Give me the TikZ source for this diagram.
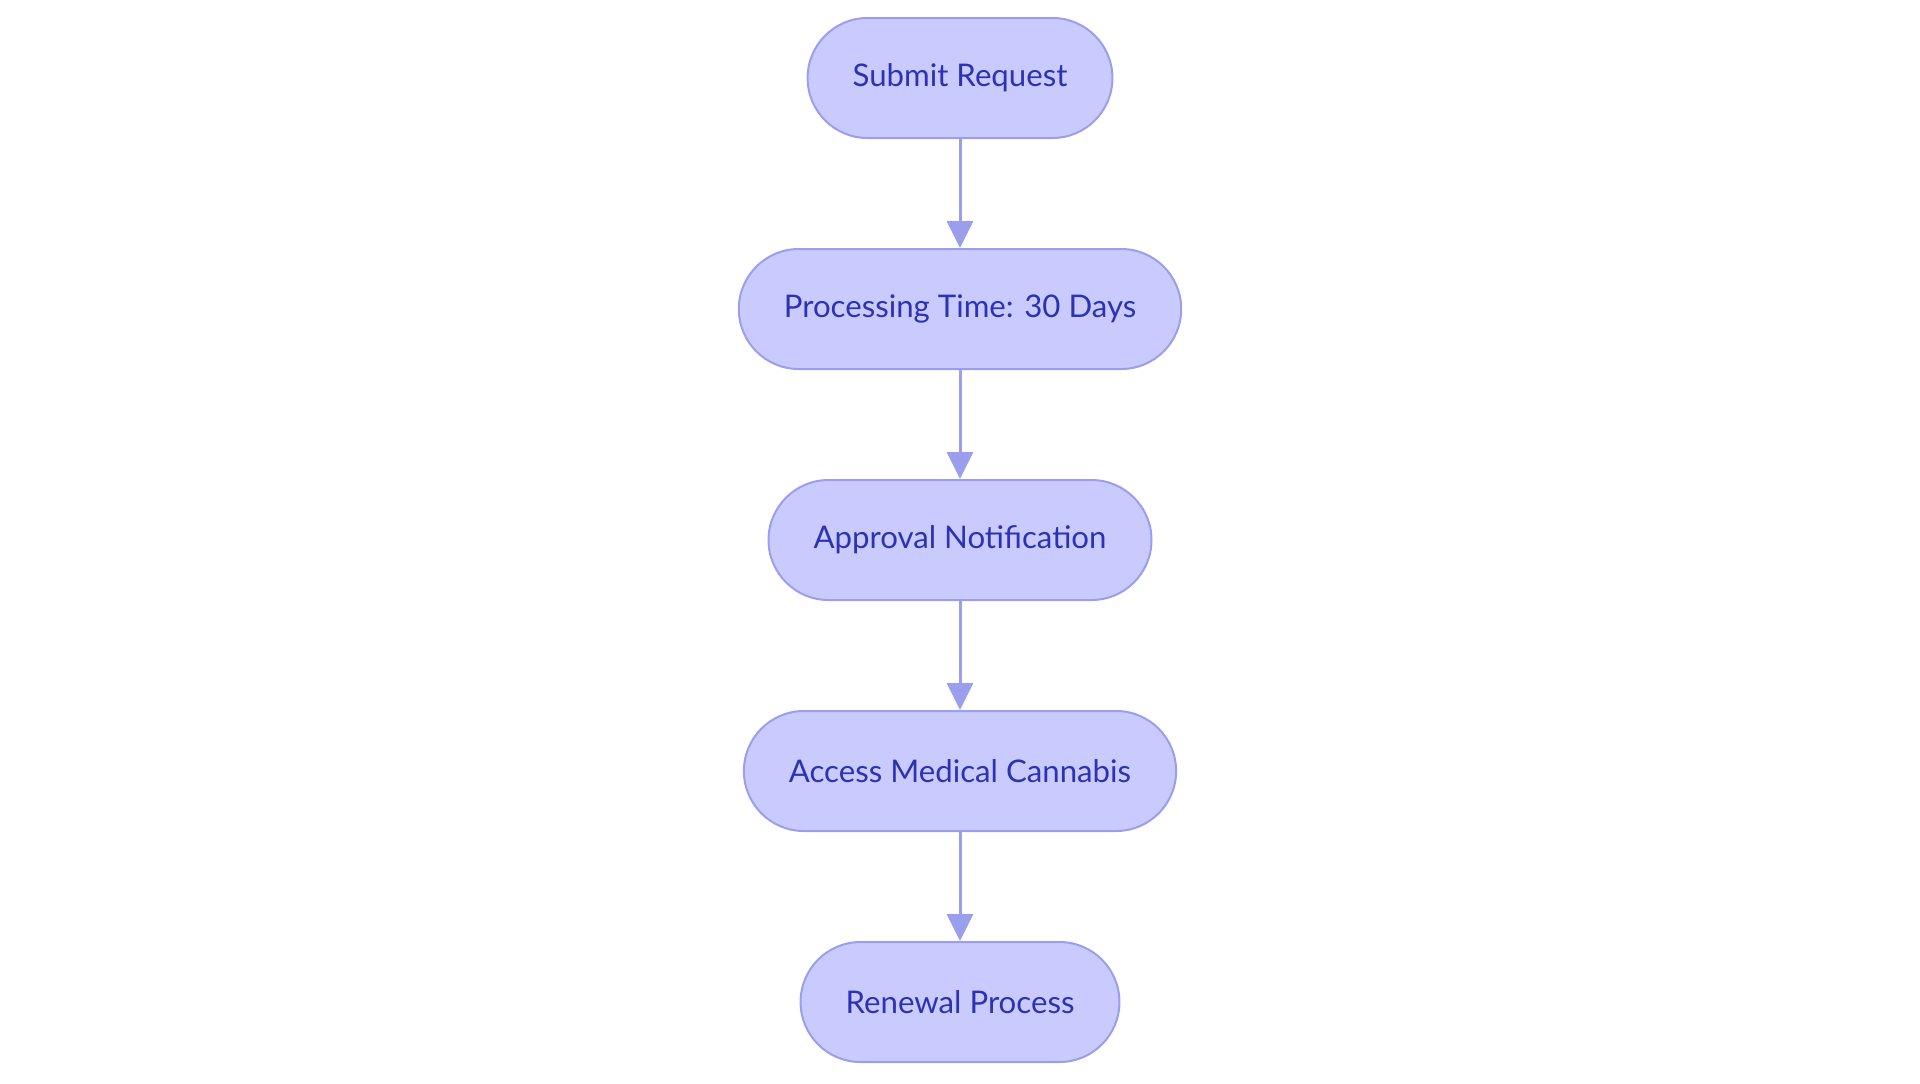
\documentclass[tikz,border=0pt]{standalone}
\usepackage{fontspec}
\setmainfont{Lato}
\usepackage{tikz}
\usetikzlibrary{positioning, arrows.meta}
\definecolor{StepFill}{HTML}{C9CBFF}
\definecolor{StepLine}{HTML}{9B9EEC}
\definecolor{StepText}{HTML}{2E31B3}

\begin{document}
\begin{tikzpicture}[x = 1pt, y = 1pt,
              stepbox/.style = {draw = StepLine, line width = 1pt, fill = StepFill,
                text = StepText, font = \fontsize{15.6}{19}\selectfont,
                rounded corners = 30pt, minimum height = 60pt, inner xsep = 22.5pt},
              flow/.style = {draw = StepLine, line width = 1.5pt,
                -{Triangle[width = 13pt, length = 13.5pt]}},
              node distance = 54.5pt]
              \useasboundingbox (0, 0) rectangle (960, -541.5);
              \node [stepbox] (submit) at (480, -39) {Submit Request};
              \node [stepbox, below = of submit] (processing) {Processing Time: 30 Days};
              \node [stepbox, below = of processing] (approval) {Approval Notification};
              \node [stepbox, below = of approval] (access) {Access Medical Cannabis};
              \node [stepbox, below = of access] (renewal) {Renewal Process};
              \foreach \a/\b in {submit/processing, processing/approval, approval/access, access/renewal}
              \draw [flow] (\a) -- (\b);
            \end{tikzpicture}
\end{document}
